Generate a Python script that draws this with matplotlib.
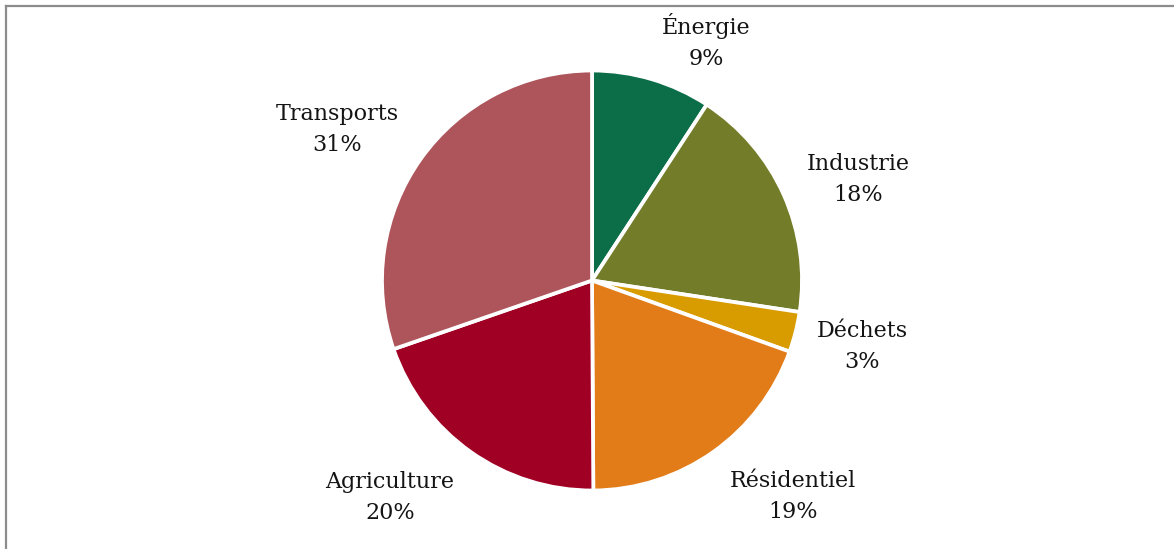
import matplotlib.pyplot as plt
from matplotlib.lines import Line2D

# data
sectors = ['Énergie', 'Industrie', 'Déchets', 'Résidentiel', 'Agriculture', 'Transports']
shares = [9.2, 18.2, 3.1, 19.4, 19.8, 30.3]      # wedge sizes
shown_pct = [9, 18, 3, 19, 20, 31]                # percentages printed on the chart
colors = ['#0c6e48', '#737c28', '#d89c00', '#e27c19', '#a00024', '#ae555c']

# label centres, in pie radius units (layout only)
label_xy = [(0.543, 1.138), (1.267, 0.481), (1.286, -0.314),
            (0.957, -1.029), (-0.962, -1.033), (-1.214, 0.719)]

W, H, DPI = 1174, 549, 100
cx, cy, R = 592, 280.5, 210   # pie centre / radius in px

fig = plt.figure(figsize=(W / DPI, H / DPI), dpi=DPI)
ax = fig.add_axes([0, 0, 1, 1])

ax.pie(shares, colors=colors, startangle=90, counterclock=False,
       wedgeprops=dict(edgecolor='white', linewidth=2.7))

for name, val, (lx, ly) in zip(sectors, shown_pct, label_xy):
    ax.text(lx, ly, f"{name}\n{val}%", ha='center', va='center',
            fontsize=16, family='DejaVu Serif', color='#141414',
            linespacing=1.5, multialignment='center')

ax.set_aspect('auto')
ax.set_xlim(-cx / R, (W - cx) / R)
ax.set_ylim(-(H - cy) / R, cy / R)
ax.axis('off')

# frame (top and left edge only visible)
fig.add_artist(Line2D([5.5 / W, 1], [1 - 5.5 / H, 1 - 5.5 / H], color='#8c8c8c', lw=1.6))
fig.add_artist(Line2D([5.5 / W, 5.5 / W], [0, 1 - 5.5 / H], color='#8c8c8c', lw=1.6))

fig.savefig('out.png', dpi=DPI, facecolor='white')
